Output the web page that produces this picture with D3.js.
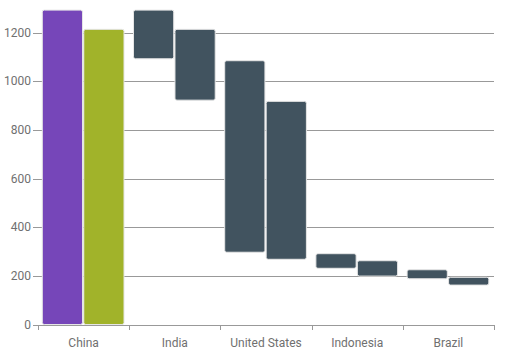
<!DOCTYPE html>
<html>
<head>
<meta charset="utf-8">
<script src="https://cdn.jsdelivr.net/npm/d3@7"></script>
<style>
  body { margin: 0; background: #fff; }
  text { font-family: Roboto, "Liberation Sans", Arial, sans-serif; font-size: 12px; fill: #707070; }
</style>
</head>
<body>
<svg id="chart" width="506" height="362"></svg>
<script>
const categories = ['China', 'India', 'United States', 'Indonesia', 'Brazil'];
// series A (first bar in each group): low / high of each floating bar
const lowA  = [0, 1092, 297, 231, 188];
const highA = [1292, 1292, 1084, 291, 225];
// series B (second bar)
const lowB  = [0, 922, 268, 199, 162];
const highB = [1213, 1213, 917, 262, 194];
const yTicks = [0, 200, 400, 600, 800, 1000, 1200];

const margin = { left: 38, right: 12, top: 32.5, bottom: 37.5 };
const width = 506, height = 362;

const svg = d3.select('#chart');

const x = d3.scaleBand()
  .domain(categories)
  .range([margin.left, width - margin.right]);

const sub = d3.scaleBand()
  .domain(['a', 'b'])
  .range([4.3, 86])
  .paddingInner(0.03);

const y = d3.scaleLinear()
  .domain([0, 1200])
  .range([height - margin.bottom, margin.top]);

// grid + y ticks
const grid = svg.append('g');
grid.selectAll('line')
  .data(yTicks.slice(1))
  .enter()
  .append('line')
  .attr('x1', margin.left - 5)
  .attr('x2', width - margin.right)
  .attr('y1', d => Math.round(y(d)) + 0.5)
  .attr('y2', d => Math.round(y(d)) + 0.5)
  .attr('stroke', '#999')
  .attr('stroke-width', 1);

svg.append('g')
  .selectAll('text')
  .data(yTicks)
  .enter()
  .append('text')
  .attr('x', margin.left - 7)
  .attr('y', d => y(d))
  .attr('dy', '0.35em')
  .attr('text-anchor', 'end')
  .text(d => d);

// bars
const rows = categories.map((c, i) => [
  { cat: c, key: 'a', lo: lowA[i], hi: highA[i], color: i === 0 ? '#7646b9' : '#41535f' },
  { cat: c, key: 'b', lo: lowB[i], hi: highB[i], color: i === 0 ? '#a1b32a' : '#41535f' }
]).flat();

svg.append('g')
  .selectAll('rect')
  .data(rows)
  .enter()
  .append('rect')
  .attr('x', d => x(d.cat) + sub(d.key))
  .attr('y', d => y(d.hi))
  .attr('width', sub.bandwidth())
  .attr('height', d => y(d.lo) - y(d.hi))
  .attr('rx', 2)
  .attr('fill', d => d.color)
  .attr('stroke', '#e6e6e6')
  .attr('stroke-width', 1);

// x axis
const xAxis = svg.append('g')
  .attr('transform', `translate(0,${Math.round(y(0)) + 0.5})`)
  .call(d3.axisBottom(x).tickSize(0).tickPadding(13).tickSizeOuter(0));
xAxis.select('.domain').attr('stroke', '#999').attr('d', `M${margin.left - 5},0H${width - margin.right}`);
xAxis.selectAll('.tick text').attr('fill', '#707070').style('font-size', '12px');

svg.append('g')
  .selectAll('line')
  .data(categories.map(c => x(c)).concat([width - margin.right]))
  .enter()
  .append('line')
  .attr('x1', d => Math.round(d) + 0.5)
  .attr('x2', d => Math.round(d) + 0.5)
  .attr('y1', Math.round(y(0)))
  .attr('y2', Math.round(y(0)) + 5)
  .attr('stroke', '#999');
</script>
</body>
</html>
